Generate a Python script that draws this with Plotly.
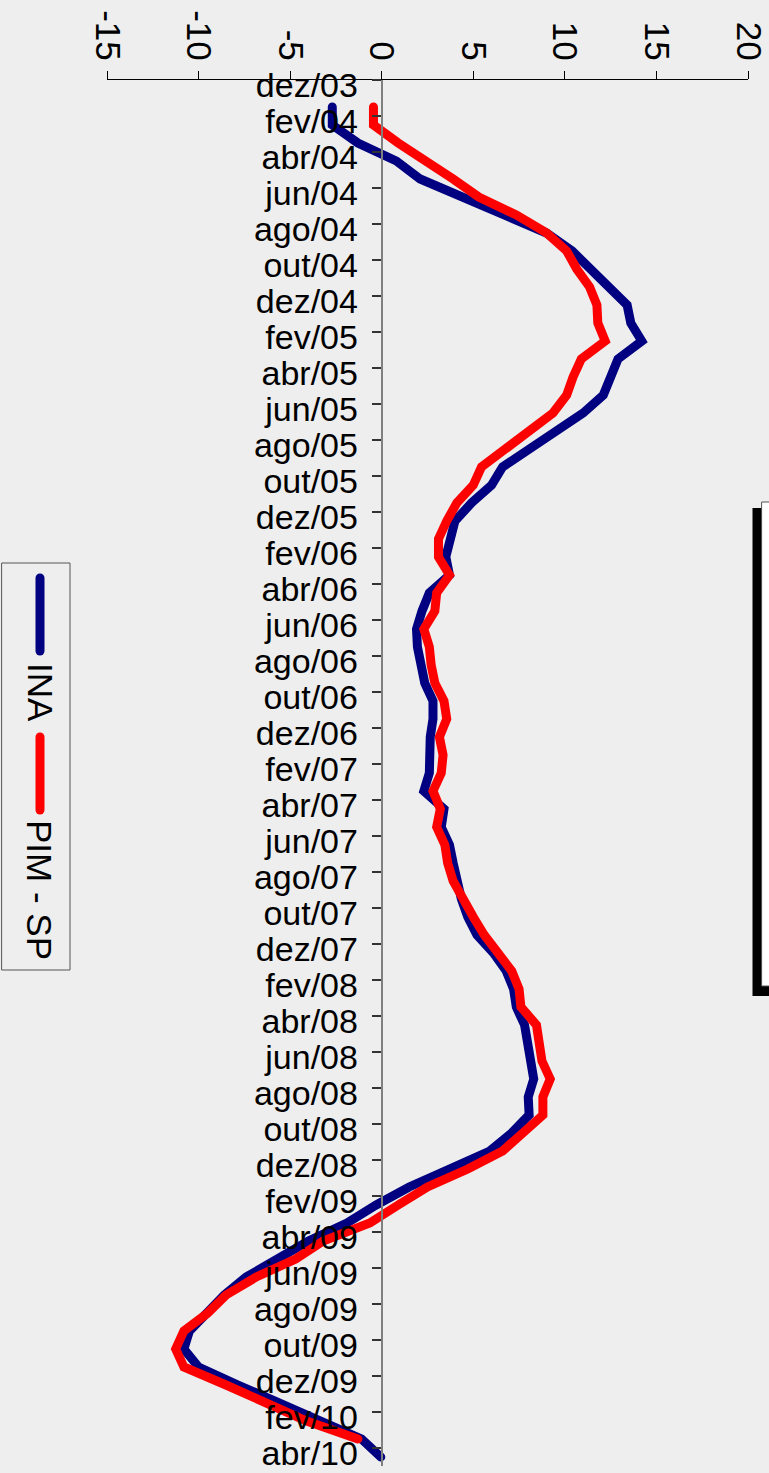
import plotly.graph_objects as go

# ---------------- data ----------------
month_abbr = ["jan", "fev", "mar", "abr", "mai", "jun", "jul", "ago", "set", "out", "nov", "dez"]
months = ["dez/03"] + [f"{m}/{y:02d}" for y in range(4, 11) for m in month_abbr][:76]  # dez/03 .. abr/10

ina = [None,
       -2.7, -2.7, -1.3, 0.8, 2.1, 4.3, 6.8, 9.0, 10.4, 11.4, 12.5, 13.4, 13.6, 14.2, 12.9, 12.5, 12.1, 11.0, 9.5,
       8.0, 6.6, 6.0, 4.9, 4.0, 3.7, 3.5, 3.7, 2.6, 2.2, 1.9, 1.95, 2.1, 2.35, 2.8, 2.8, 2.65, 2.65, 2.6,
       2.3, 3.4, 3.25, 3.7, 3.9, 4.1, 4.35, 4.7, 5.2, 6.1, 6.8, 7.2, 7.35, 7.8, 7.95, 8.1, 8.3, 8.0, 8.05,
       7.1, 5.9, 3.7, 1.5, -0.3, -1.9, -4.0, -5.6, -7.4, -8.6, -9.6, -10.5, -10.8, -10.0, -7.85, -5.6, -3.4,
       -1.1, -0.05]
pim_sp = [None,
          -0.45, -0.45, 0.9, 2.45, 3.9, 5.3, 7.35, 9.0, 10.1, 10.65, 11.35, 11.75, 11.8, 12.2, 10.9, 10.45, 10.1, 9.35, 8.1,
          6.7, 5.45, 5.0, 4.1, 3.55, 3.1, 3.1, 3.7, 3.0, 2.9, 2.3, 2.6, 2.7, 2.9, 3.4, 3.55, 3.15, 3.35, 3.25,
          2.8, 3.2, 3.0, 3.45, 3.6, 3.9, 4.4, 5.0, 5.6, 6.3, 7.1, 7.5, 7.6, 8.45, 8.6, 8.75, 9.2, 8.8, 8.8,
          7.7, 6.6, 4.7, 2.5, 0.9, -0.65, -3.2, -4.7, -6.85, -8.5, -9.5, -10.8, -11.25, -10.8, -8.5, -6.3, -4.1,
          -1.3, None]

series_names = ["INA", "PIM - SP"]
series_colors = ["#000080", "#FF0000"]
value_ticks = [-15, -10, -5, 0, 5, 10, 15, 20]

# ---------------- layout geometry ----------------
W, H = 769, 1473
L, R, T, B = 107, 21, 80, 7
PW, PH = W - L - R, H - T - B
BG = "#eeeeee"
FONT = "Liberation Sans, Arial, sans-serif"

def px(xp):
    return (xp - L) / PW

def py(yp):
    return 1 - (yp - T) / PH

idx = list(range(len(months)))
label_idx = idx[::2]
label_txt = months[::2]
boundary_ticks = [i - 0.5 for i in label_idx]

fig = go.Figure()
for name, vals, col in zip(series_names, [ina, pim_sp], series_colors):
    fig.add_trace(go.Scatter(
        x=vals, y=idx, mode="lines", name=name,
        line=dict(color=col, width=9), connectgaps=False, showlegend=False,
    ))

fig.update_layout(
    width=W, height=H,
    margin=dict(l=L, r=R, t=T, b=B, autoexpand=False),
    paper_bgcolor=BG, plot_bgcolor=BG,
    font=dict(family=FONT, size=34, color="black"),
    showlegend=False,
    xaxis=dict(
        range=[-15, 20], side="top", tickvals=value_ticks,
        ticktext=[str(v) for v in value_ticks], tickangle=90,
        ticks="outside", ticklen=8, tickcolor="black", tickwidth=1,
        showline=True, linecolor="black", linewidth=1,
        showgrid=False, zeroline=False, automargin=False,
        tickfont=dict(size=35), ticklabelstandoff=-2,
        ticklabeloverflow="allow",
    ),
    yaxis=dict(
        range=[len(months) - 0.5, -0.5], anchor="free", position=15 / 35,
        tickmode="array", tickvals=label_idx, ticktext=label_txt,
        ticks="", showline=True, linecolor="#808080", linewidth=2,
        showgrid=False, zeroline=False, automargin=False,
        tickfont=dict(size=34), ticklabelstandoff=16, ticklabelshift=4,
        ticklabeloverflow="allow",
        minor=dict(tickmode="array", tickvals=boundary_ticks, ticks="outside",
                   ticklen=9, tickcolor="#333333", tickwidth=2, showgrid=False),
    ),
)

shapes = []
# legend box
shapes.append(dict(type="rect", xref="paper", yref="paper",
                   x0=px(2), x1=px(70), y0=py(563), y1=py(970),
                   line=dict(color="#555555", width=1), fillcolor="rgba(0,0,0,0)"))
shapes.append(dict(type="line", xref="paper", yref="paper",
                   x0=px(40), x1=px(40), y0=py(578), y1=py(651),
                   line=dict(color=series_colors[0], width=9)))
shapes.append(dict(type="line", xref="paper", yref="paper",
                   x0=px(40), x1=px(40), y0=py(737), y1=py(810),
                   line=dict(color=series_colors[1], width=9)))
# clipped title box with shadow at right edge
shapes.append(dict(type="rect", xref="paper", yref="paper",
                   x0=px(752.5), x1=px(775), y0=py(508), y1=py(996),
                   line=dict(width=0), fillcolor="black"))
shapes.append(dict(type="rect", xref="paper", yref="paper",
                   x0=px(762), x1=px(780), y0=py(502), y1=py(986),
                   line=dict(color="#555555", width=1), fillcolor="white"))
fig.update_layout(shapes=shapes)

annotations = [
    dict(text=series_names[0], xref="paper", yref="paper", x=px(40), y=py(692),
         showarrow=False, textangle=90, font=dict(size=35), xanchor="center", yanchor="middle"),
    dict(text=series_names[1], xref="paper", yref="paper", x=px(40), y=py(890),
         showarrow=False, textangle=90, font=dict(size=35), xanchor="center", yanchor="middle"),
]
fig.update_layout(annotations=annotations)

post_js = (
    "document.body.style.margin='0px';"
    "document.body.style.background='#eeeeee';"
    "document.querySelectorAll('.scatterlayer path.js-line, .shapelayer path')"
    ".forEach(function(p){p.style.strokeLinecap='round';});"
)

fig.write_html("out.html", config={"displayModeBar": False}, post_script=post_js)
